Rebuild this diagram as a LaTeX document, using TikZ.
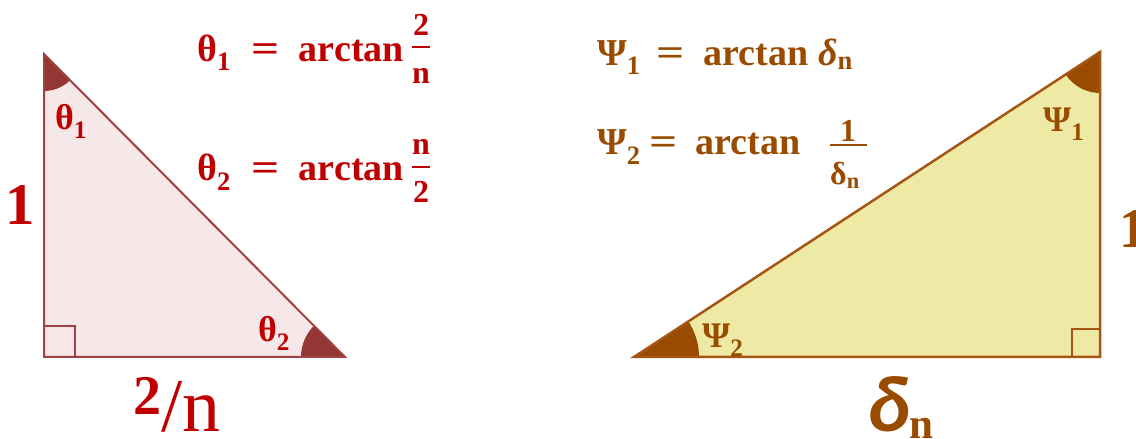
\documentclass[tikz,border=0pt]{standalone}
\usepackage{amsmath}
\usepackage{fontspec}
\setmainfont{Liberation Serif}
\newfontfamily\deltafont{Carlito}
\definecolor{thetaRed}{RGB}{192,0,0}
\definecolor{triPink}{RGB}{246,232,232}
\definecolor{edgeRed}{RGB}{160,66,66}
\definecolor{wedgeRed}{RGB}{148,54,54}
\definecolor{psiBrown}{RGB}{153,76,0}
\definecolor{triKhaki}{RGB}{238,234,166}
\definecolor{edgeBrown}{RGB}{165,85,20}
\newcommand{\fsz}[1]{\fontsize{#1}{#1}\selectfont}
\newcommand{\wideeq}{\scalebox{1.3}[1]{=}}

\begin{document}
\begin{tikzpicture}[x=1pt, y=1pt,
    redlabel/.style={thetaRed, inner sep=0pt, font=\bfseries\fsz{38}},
    brownlabel/.style={psiBrown, inner sep=0pt, font=\bfseries\fsz{38}},
    fracpart/.style={inner sep=0pt, anchor=base, font=\bfseries\fsz{32}}]
        \useasboundingbox (0,0) rectangle (1136,439);

        % Left triangle
        \coordinate (A) at (44,385);
        \coordinate (C) at (44,82);
        \coordinate (B) at (345,82);
        \fill[triPink] (A) -- (C) -- (B) -- cycle;
        \fill[wedgeRed] (A) -- ++(-90:37) arc (-90:-45.2:37) -- cycle;
        \fill[wedgeRed] (B) -- ++(180:44) arc (180:134.8:44) -- cycle;
        \draw[edgeRed, line width=1.8pt] (C) rectangle ++(31,31);
        \draw[edgeRed, line width=2pt, line join=miter] (A) -- (C) -- (B) -- cycle;

        % Right triangle
        \coordinate (P) at (634,82);
        \coordinate (Q) at (1100,82);
        \coordinate (R) at (1100,387);
        \fill[triKhaki] (P) -- (Q) -- (R) -- cycle;
        \fill[psiBrown] (P) -- ++(0:65) arc (0:33.2:65) -- cycle;
        \fill[psiBrown] (R) -- ++(-90:41) arc (-90:-146.8:41) -- cycle;
        \draw[edgeBrown, line width=2pt] (Q) rectangle ++(-28,28);
        \draw[edgeBrown, line width=2.5pt] (P) -- (Q) -- (R) -- cycle;

        % Angle names
        \node[redlabel, font=\bfseries\fsz{36}, anchor=base west] (t1) at (55,309) {θ$_{\text{1}}$};
        \node[redlabel, font=\bfseries\fsz{36}, anchor=base west] (t2) at (258,97) {θ$_{\text{2}}$};
        \node[brownlabel, font=\bfseries\fsz{36}, anchor=base west] (p2) at (702,91) {Ψ$_{\text{2}}$};
        \node[brownlabel, font=\bfseries\fsz{36}, anchor=base west] (p1) at (1043,307) {Ψ$_{\text{1}}$};

        % Side lengths
        \node[redlabel, font=\bfseries\fsz{59}, anchor=base] (sideA) at (20,214) {1};
        \node[redlabel, font=\fsz{76}, anchor=base west] (sideB) at (133,7)
          {\raisebox{17pt}{\bfseries\fsz{56}2}/n};
        \node[brownlabel, font=\bfseries\fsz{56}, anchor=base west] (sideR) at (1119,191) {1};
        \node[brownlabel, font=\fsz{80}, anchor=base west] (sideP) at (867,7)
          {\deltafont\bfseries\itshape δ\raisebox{-7pt}{\normalfont\bfseries\fsz{43}n}};

        % Formulas
        \node[redlabel, anchor=base west] (f1) at (197,377)
          {θ$_{\text{1}}$\hspace{21pt}\wideeq\hspace{19pt}arctan};
        \node[fracpart, thetaRed] (num1) at (421,403) {2};
        \node[fracpart, thetaRed] (den1) at (421,355) {n};
        \draw[thetaRed, line width=2.5pt] (412,392) -- (430,392);

        \node[redlabel, anchor=base west] (f2) at (197,258)
          {θ$_{\text{2}}$\hspace{21pt}\wideeq\hspace{19pt}arctan};
        \node[fracpart, thetaRed] (num2) at (421,284) {n};
        \node[fracpart, thetaRed] (den2) at (421,236) {2};
        \draw[thetaRed, line width=2.5pt] (412,272) -- (430,272);

        \node[brownlabel, anchor=base west] (f3) at (597,373)
          {Ψ$_{\text{1}}$\hspace{16pt}\wideeq\hspace{19pt}arctan \textit{δ}$_{\text{n}}$};

        \node[brownlabel, anchor=base west] (f4) at (597,284)
          {Ψ$_{\text{2}}$\hspace{9pt}\wideeq\hspace{18pt}arctan};
        \node[fracpart, psiBrown] (num4) at (848,297) {1};
        \node[fracpart, psiBrown, anchor=base west] (den4) at (830,254) {δ$_{\text{n}}$};
        \draw[psiBrown, line width=2.5pt] (830,294) -- (867,294);
      \end{tikzpicture}
\end{document}
